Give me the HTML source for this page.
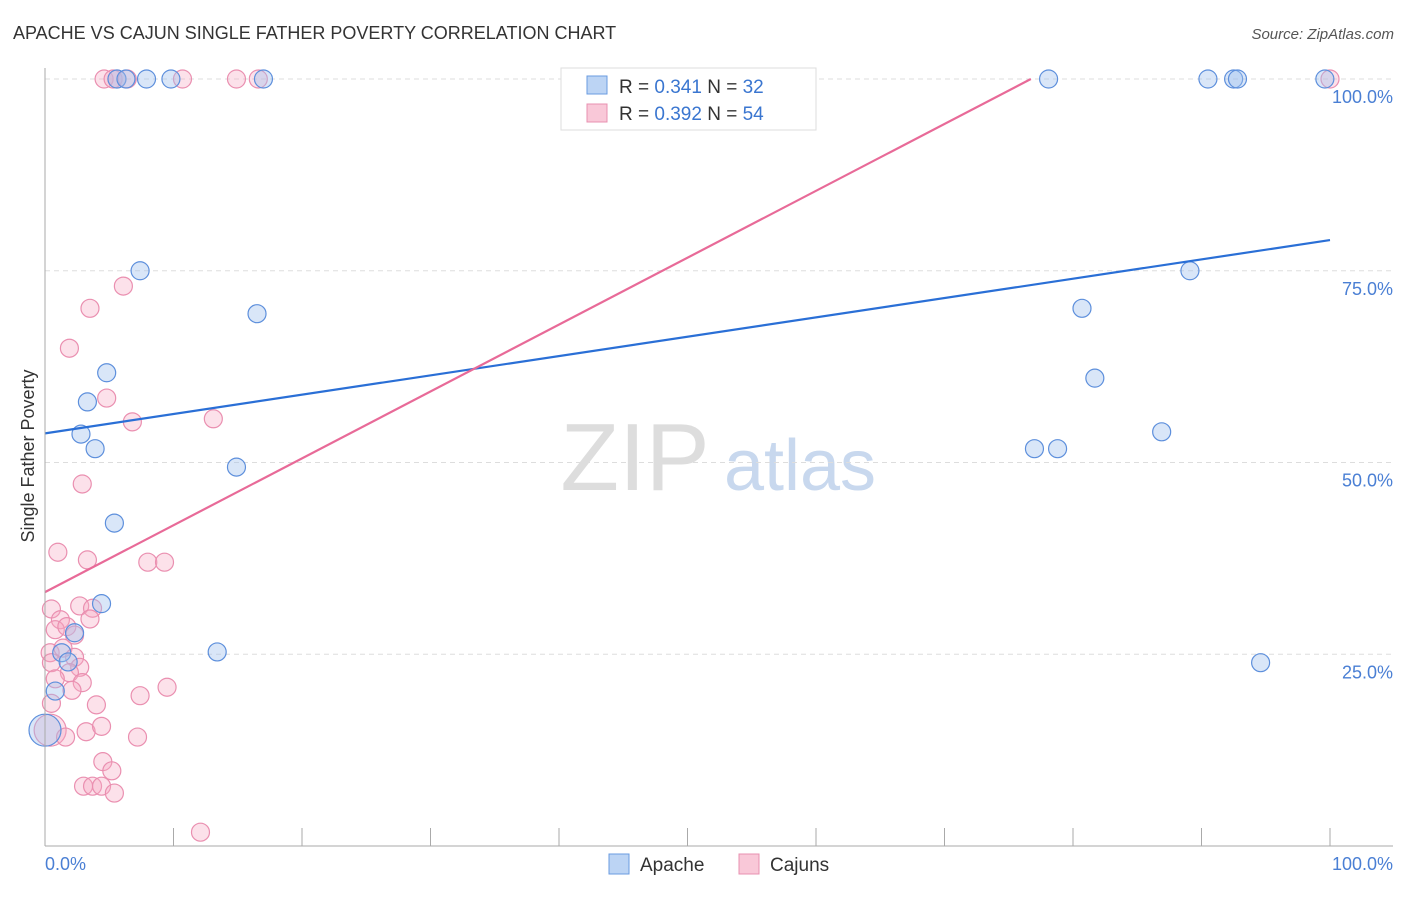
<!DOCTYPE html>
<html><head><meta charset="utf-8"><style>
body{margin:0;background:#fff;font-family:"Liberation Sans",sans-serif}
svg text{font-family:"Liberation Sans",sans-serif}
</style></head><body>
<svg width="1406" height="892" xmlns="http://www.w3.org/2000/svg" id="chart">
<text x="13" y="39" font-size="18" fill="#333">APACHE VS CAJUN SINGLE FATHER POVERTY CORRELATION CHART</text>
<text x="1394" y="39" font-size="15" fill="#555" font-style="italic" text-anchor="end">Source: ZipAtlas.com</text>
<text x="0" y="0" transform="translate(34,456) rotate(-90)" font-size="18" fill="#333" text-anchor="middle">Single Father Poverty</text>
<g><text x="635" y="490" font-size="96" font-family="Liberation Serif" fill="#ddd" text-anchor="middle">ZIP</text><text x="800" y="490" font-size="72" fill="#c8d8ee" text-anchor="middle">atlas</text></g>
<g id="grid"></g><g id="pts"></g><g id="lines"></g>
<line x1="45" y1="68" x2="45" y2="846" stroke="#aaa"/>
<line x1="45" y1="846" x2="1393" y2="846" stroke="#aaa"/>
<text x="45" y="870" font-size="18" fill="#4a7fd4">0.0%</text>
<text x="1393" y="870" font-size="18" fill="#4a7fd4" text-anchor="end">100.0%</text>
<g>
<rect x="561" y="68" width="255" height="62" fill="#fff" stroke="#ddd"/>
<rect x="587" y="76" width="20" height="18" fill="#bcd4f4" stroke="#6a9be0"/>
<rect x="587" y="104" width="20" height="18" fill="#f9c8d8" stroke="#e890b0"/>
<text x="619" y="93" font-size="19" fill="#333">R = <tspan fill="#3a76d0">0.341</tspan>   N = <tspan fill="#3a76d0">32</tspan></text>
<text x="619" y="120" font-size="19" fill="#333">R = <tspan fill="#3a76d0">0.392</tspan>   N = <tspan fill="#3a76d0">54</tspan></text>
</g>
<g><rect x="609" y="854" width="20" height="20" fill="#bcd4f4" stroke="#6a9be0"/><text x="640" y="871" font-size="19" fill="#333">Apache</text></g>
<g><rect x="739" y="854" width="20" height="20" fill="#f9c8d8" stroke="#e890b0"/><text x="770" y="871" font-size="19" fill="#333">Cajuns</text></g>
</svg>
<script>
const yTicks=[25,50,75,100];
const yTickLabels=["25.0%","50.0%","75.0%","100.0%"];
const apacheX=[5.6,6.3,7.9,9.8,17.0,78.1,90.5,92.5,92.8,99.6,7.4,16.5,4.8,3.3,2.8,3.9,14.9,5.4,4.4,13.4,1.3,1.8,2.3,0.8,0,89.1,80.7,81.7,86.9,77.0,78.8,94.6];
const apacheY=[100,100,100,100,100,100,100,100,100,100,75.0,69.4,61.7,57.9,53.7,51.8,49.4,42.1,31.6,25.3,25.2,24.0,27.8,20.2,15.1,75.0,70.1,61.0,54.0,51.8,51.8,23.9];
const cajunX=[1.0,3.3,8.0,9.3,0.5,2.7,3.7,3.5,1.2,0.8,1.7,2.3,0.4,1.4,2.3,0.5,2.7,1.9,0.8,2.9,2.1,0.5,4.0,9.5,7.4,0.4,1.6,3.2,4.4,7.2,4.5,5.2,3.0,3.7,4.4,5.4,12.1,1.9,3.5,6.1,4.8,6.8,13.1,2.9,4.6,5.3,5.6,6.4,10.7,14.9,16.6,100];
const cajunY=[38.3,37.3,37.0,37.0,30.9,31.3,31.0,29.6,29.5,28.2,28.6,27.5,25.2,25.8,24.6,23.9,23.3,22.6,21.8,21.3,20.3,18.6,18.4,20.7,19.6,15.1,14.2,14.9,15.6,14.2,11.0,9.8,7.8,7.8,7.8,6.9,1.8,64.9,70.1,73.0,58.4,55.3,55.7,47.2,100,100,100,100,100,100,100,100];
const trendIntercepts=[53.8,33.1];
const trendSlopes=[0.252,0.872];
const NS="http://www.w3.org/2000/svg";
const sx=v=>45+v*12.85, sy=v=>846-v*7.67;
function mk(tag,attrs,parent){const e=document.createElementNS(NS,tag);for(const k in attrs)e.setAttribute(k,attrs[k]);parent.appendChild(e);return e;}
const grid=document.getElementById('grid');
yTicks.forEach((t,i)=>{
 const l=mk('line',{x1:45,x2:1393,y1:sy(t),y2:sy(t),stroke:'#ddd','stroke-dasharray':'5,4'},grid);
 
 
 const tx=mk('text',{x:1393,y:sy(t)+24,'font-size':18,fill:'#4a7fd4','text-anchor':'end'},grid);
 tx.textContent=yTickLabels[i];
 
 
});
for(let k=1;k<=10;k++){
 const l=mk('line',{x1:45+k*128.5,x2:45+k*128.5,y1:828,y2:846,stroke:'#aaa'},grid);
 
 
}
const pts=document.getElementById('pts');
cajunX.forEach((x,i)=>{
 const r=(x<1&&cajunY[i]<16)?16:9;
 const c=mk('circle',{cx:sx(x),cy:sy(cajunY[i]),r:r,fill:'rgba(246,170,196,0.35)',stroke:'#ea8fb0','stroke-width':1.2},pts);
 
 
});
apacheX.forEach((x,i)=>{
 const r=(x<0.5&&apacheY[i]<16)?16:9;
 const c=mk('circle',{cx:sx(x),cy:sy(apacheY[i]),r:r,fill:'rgba(160,192,238,0.4)',stroke:'#5d8fdc','stroke-width':1.2},pts);
 
 
});
const lines=document.getElementById('lines');
const cols=['#2a6fd6','#e86a98'];
const names=['apache-trend-line','cajuns-trend-line'];
trendIntercepts.forEach((b,i)=>{
 const m=trendSlopes[i];
 let x2=100,y2=b+m*100;
 if(y2>100){x2=(100-b)/m;y2=100;}
 const l=mk('line',{x1:sx(0),y1:sy(b),x2:sx(x2),y2:sy(y2),stroke:cols[i],'stroke-width':2.2},lines);
 
 
});
</script>
</body></html>
